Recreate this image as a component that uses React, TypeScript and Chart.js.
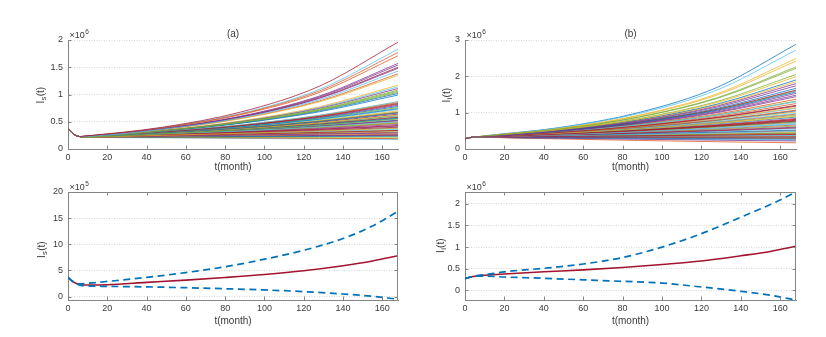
import React, { useEffect, useRef } from "react";
import { Chart, registerables } from "chart.js";

Chart.register(...registerables);

// ---------------- data ----------------
// months shown on the x axis
const monthTicks = [0, 20, 40, 60, 80, 100, 120, 140, 160];

// shared start of every simulated path (t = 0..6 months)
const headTimes = [0, 2, 4, 6];
const headIs = [0.375, 0.3, 0.25, 0.228]; // x10^6
const headIi = [0.285, 0.31, 0.325, 0.332]; // x10^6

// each path after that: values at these months
const pathTimes = [8, 48, 88, 128, 168];

// (a) I_s(t) paths, x10^6, grouped by line colour order
const isBlue = [
  [0.221, 0.285, 0.367, 0.473, 0.61], [0.225, 0.328, 0.479, 0.699, 1.02], [0.219, 0.252, 0.29, 0.334, 0.385],
  [0.223, 0.305, 0.417, 0.57, 0.78], [0.22, 0.274, 0.341, 0.425, 0.53], [0.217, 0.221, 0.226, 0.23, 0.235],
  [0.222, 0.3, 0.405, 0.548, 0.74], [0.225, 0.326, 0.472, 0.683, 0.99], [0.221, 0.279, 0.352, 0.444, 0.56],
  [0.222, 0.291, 0.383, 0.503, 0.66],
];
const isOrange = [
  [0.22, 0.266, 0.322, 0.389, 0.47], [0.218, 0.23, 0.243, 0.256, 0.27], [0.232, 0.382, 0.63, 1.038, 1.71],
  [0.224, 0.313, 0.436, 0.609, 0.85], [0.217, 0.21, 0.203, 0.196, 0.19], [0.22, 0.272, 0.337, 0.416, 0.515],
  [0.229, 0.359, 0.562, 0.881, 1.38], [0.218, 0.238, 0.26, 0.284, 0.31], [0.222, 0.293, 0.386, 0.508, 0.67],
  [0.233, 0.387, 0.642, 1.066, 1.77],
];
const isYellow = [
  [0.218, 0.245, 0.274, 0.308, 0.345], [0.224, 0.314, 0.44, 0.617, 0.865], [0.217, 0.213, 0.208, 0.204, 0.2],
  [0.227, 0.342, 0.515, 0.776, 1.17], [0.22, 0.269, 0.328, 0.401, 0.49], [0.222, 0.296, 0.394, 0.525, 0.7],
  [0.218, 0.233, 0.249, 0.267, 0.285], [0.229, 0.357, 0.556, 0.866, 1.35], [0.221, 0.286, 0.37, 0.479, 0.62],
  [0.219, 0.251, 0.289, 0.331, 0.38],
];
const isPurple = [
  [0.223, 0.307, 0.422, 0.581, 0.8], [0.219, 0.258, 0.303, 0.357, 0.42], [0.23, 0.37, 0.595, 0.957, 1.54],
  [0.218, 0.228, 0.238, 0.249, 0.26], [0.226, 0.336, 0.501, 0.746, 1.11], [0.22, 0.273, 0.338, 0.419, 0.52],
  [0.231, 0.373, 0.602, 0.972, 1.57], [0.218, 0.235, 0.254, 0.274, 0.295], [0.22, 0.263, 0.315, 0.376, 0.45],
  [0.23, 0.366, 0.583, 0.929, 1.48],
];
const isGreen = [
  [0.221, 0.283, 0.361, 0.462, 0.59], [0.225, 0.33, 0.484, 0.709, 1.04], [0.218, 0.242, 0.268, 0.298, 0.33],
  [0.223, 0.303, 0.412, 0.559, 0.76], [0.217, 0.218, 0.218, 0.219, 0.22], [0.226, 0.334, 0.494, 0.73, 1.08],
  [0.22, 0.267, 0.325, 0.395, 0.48], [0.222, 0.294, 0.389, 0.514, 0.68], [0.226, 0.333, 0.49, 0.72, 1.06],
  [0.221, 0.278, 0.349, 0.438, 0.55],
];
const isLightBlue = [
  [0.219, 0.248, 0.281, 0.318, 0.36], [0.226, 0.339, 0.508, 0.761, 1.14], [0.221, 0.28, 0.355, 0.45, 0.57],
  [0.217, 0.206, 0.195, 0.185, 0.175], [0.233, 0.39, 0.653, 1.093, 1.83], [0.222, 0.298, 0.401, 0.539, 0.725],
  [0.218, 0.236, 0.256, 0.277, 0.3], [0.224, 0.314, 0.441, 0.62, 0.87], [0.22, 0.27, 0.332, 0.407, 0.5],
  [0.229, 0.362, 0.572, 0.905, 1.43],
];
const isDarkRed = [
  [0.221, 0.288, 0.376, 0.491, 0.64], [0.218, 0.226, 0.234, 0.242, 0.25], [0.223, 0.31, 0.431, 0.6, 0.835],
  [0.23, 0.368, 0.587, 0.939, 1.5], [0.219, 0.255, 0.296, 0.344, 0.4], [0.221, 0.281, 0.358, 0.456, 0.58],
  [0.218, 0.244, 0.272, 0.304, 0.34], [0.223, 0.309, 0.428, 0.592, 0.82], [0.219, 0.259, 0.307, 0.363, 0.43],
  [0.235, 0.399, 0.679, 1.153, 1.96],
];

// (b) I_i(t) paths, x10^6
const iiBlue = [
  [0.331, 0.405, 0.495, 0.605, 0.74], [0.338, 0.504, 0.751, 1.12, 1.67], [0.328, 0.336, 0.344, 0.352, 0.36],
  [0.333, 0.444, 0.591, 0.788, 1.05], [0.348, 0.59, 1.001, 1.698, 2.88], [0.329, 0.369, 0.414, 0.464, 0.52],
  [0.34, 0.523, 0.804, 1.236, 1.9], [0.327, 0.312, 0.297, 0.283, 0.27], [0.332, 0.424, 0.541, 0.69, 0.88],
  [0.338, 0.496, 0.728, 1.069, 1.57],
];
const iiOrange = [
  [0.329, 0.365, 0.406, 0.45, 0.5], [0.335, 0.466, 0.647, 0.9, 1.25], [0.326, 0.277, 0.235, 0.2, 0.17],
  [0.332, 0.416, 0.522, 0.654, 0.82], [0.336, 0.477, 0.678, 0.964, 1.37], [0.327, 0.317, 0.308, 0.299, 0.29],
  [0.333, 0.434, 0.565, 0.737, 0.96], [0.328, 0.347, 0.367, 0.388, 0.41], [0.334, 0.447, 0.598, 0.8, 1.07],
  [0.33, 0.392, 0.467, 0.555, 0.66],
];
const iiYellow = [
  [0.333, 0.441, 0.583, 0.771, 1.02], [0.329, 0.358, 0.389, 0.423, 0.46], [0.344, 0.56, 0.912, 1.486, 2.42],
  [0.331, 0.402, 0.488, 0.593, 0.72], [0.34, 0.519, 0.793, 1.211, 1.85], [0.328, 0.333, 0.339, 0.344, 0.35],
  [0.334, 0.454, 0.617, 0.839, 1.14], [0.345, 0.565, 0.927, 1.52, 2.49], [0.332, 0.426, 0.547, 0.701, 0.9],
  [0.341, 0.53, 0.824, 1.28, 1.99],
];
const iiPurple = [
  [0.332, 0.419, 0.528, 0.666, 0.84], [0.337, 0.492, 0.718, 1.048, 1.53], [0.327, 0.32, 0.313, 0.307, 0.3],
  [0.339, 0.515, 0.781, 1.186, 1.8], [0.33, 0.383, 0.445, 0.517, 0.6], [0.337, 0.485, 0.697, 1.002, 1.44],
  [0.327, 0.296, 0.268, 0.243, 0.22], [0.339, 0.51, 0.768, 1.156, 1.74], [0.328, 0.328, 0.329, 0.329, 0.33],
  [0.337, 0.488, 0.706, 1.022, 1.48],
];
const iiGreen = [
  [0.33, 0.388, 0.456, 0.536, 0.63], [0.343, 0.547, 0.873, 1.392, 2.22], [0.332, 0.43, 0.556, 0.719, 0.93],
  [0.327, 0.323, 0.318, 0.314, 0.31], [0.338, 0.499, 0.735, 1.085, 1.6], [0.331, 0.407, 0.502, 0.617, 0.76],
  [0.341, 0.534, 0.836, 1.309, 2.05], [0.328, 0.351, 0.376, 0.402, 0.43], [0.336, 0.473, 0.666, 0.937, 1.32],
  [0.343, 0.55, 0.881, 1.411, 2.26],
];
const iiLightBlue = [
  [0.329, 0.376, 0.429, 0.49, 0.56], [0.334, 0.452, 0.612, 0.828, 1.12], [0.327, 0.303, 0.28, 0.259, 0.24],
  [0.331, 0.399, 0.481, 0.58, 0.7], [0.347, 0.581, 0.972, 1.626, 2.72], [0.328, 0.34, 0.353, 0.366, 0.38],
  [0.333, 0.436, 0.571, 0.748, 0.98], [0.329, 0.362, 0.397, 0.437, 0.48], [0.335, 0.47, 0.66, 0.926, 1.3],
  [0.33, 0.395, 0.474, 0.568, 0.68],
];
const iiDarkRed = [
  [0.329, 0.354, 0.38, 0.409, 0.44], [0.335, 0.461, 0.634, 0.872, 1.2], [0.331, 0.411, 0.511, 0.636, 0.79],
  [0.328, 0.331, 0.334, 0.337, 0.34], [0.338, 0.5, 0.74, 1.095, 1.62], [0.33, 0.38, 0.438, 0.504, 0.58],
  [0.331, 0.414, 0.518, 0.648, 0.81], [0.328, 0.345, 0.362, 0.381, 0.4], [0.334, 0.458, 0.628, 0.861, 1.18],
  [0.331, 0.409, 0.505, 0.624, 0.77],
];

// mean and bounds (bottom panels)
const statTimes = [0, 2, 4, 6, 10, 20, 40, 60, 80, 100, 120, 140, 155, 168];
const isMean = [3.7, 3.0, 2.55, 2.32, 2.22, 2.28, 2.72, 3.15, 3.65, 4.22, 4.94, 5.9, 6.8, 7.8]; // x10^5
const isUpper = [3.7, 3.0, 2.6, 2.45, 2.55, 2.9, 3.67, 4.6, 5.7, 7.15, 8.86, 11.1, 13.5, 16.3];
const isLower = [3.7, 3.0, 2.5, 2.2, 2.05, 1.96, 1.86, 1.7, 1.5, 1.27, 0.95, 0.5, 0.05, -0.5];
const iiMean = [0.27, 0.3, 0.32, 0.335, 0.35, 0.38, 0.43, 0.475, 0.53, 0.6, 0.68, 0.8, 0.9, 1.02]; // x10^6
const iiUpper = [0.27, 0.3, 0.32, 0.34, 0.36, 0.43, 0.51, 0.61, 0.76, 1.0, 1.31, 1.69, 1.98, 2.27];
const iiLower = [0.27, 0.3, 0.32, 0.33, 0.33, 0.31, 0.28, 0.245, 0.21, 0.17, 0.08, -0.02, -0.11, -0.22];

const yTicksIs = [0, 0.5, 1, 1.5, 2];
const yTicksIi = [0, 1, 2, 3];
const yTicksIsStat = [0, 5, 10, 15, 20];
const yTicksIiStat = [0, 0.5, 1, 1.5, 2];

// ---------------- styles ----------------
const LINE_COLORS = ["#0072BD", "#D95319", "#EDB120", "#7E2F8E", "#77AC30", "#4DBEEE", "#A2142F"];
const FONT = '"Liberation Sans", Arial, Helvetica, sans-serif';
const AXIS = "#858585";
const TEXT = "#3a3a3a";
const GRID = "#d6d6d6";

function ensemble(head: number[], groups: number[][][]) {
  const out: any[] = [];
  const n = Math.max(...groups.map((g) => g.length));
  for (let k = 0; k < n; k++) {
    groups.forEach((g, c) => {
      const row = g[k];
      if (!row) return;
      const data = headTimes
        .map((t, i) => ({ x: t, y: head[i] }))
        .concat(pathTimes.map((t, i) => ({ x: t, y: row[i] })));
      out.push({
        data,
        borderColor: LINE_COLORS[c],
        borderWidth: 0.75,
        pointRadius: 0,
        fill: false,
        cubicInterpolationMode: "monotone",
      });
    });
  }
  return out.reverse(); // first dataset is drawn on top in Chart.js
}

function stats(mean: number[], upper: number[], lower: number[]) {
  const pts = (arr: number[]) => statTimes.map((t, i) => ({ x: t, y: arr[i] }));
  const dashed = { borderColor: "#0072BD", borderWidth: 1.7, borderDash: [7, 4.5], pointRadius: 0, fill: false, cubicInterpolationMode: "monotone" };
  return [
    { ...dashed, data: pts(upper) },
    { ...dashed, data: pts(lower) },
    { data: pts(mean), borderColor: "#A2142F", borderWidth: 1.6, pointRadius: 0, fill: false, cubicInterpolationMode: "monotone" },
  ];
}

type Spec = {
  x: number; y: number; w: number; h: number;
  area: { left: number; right: number; top: number; bottom: number };
  yMin: number; yMax: number; yTicks: number[];
  box: boolean; title?: string; sub: string; exp: string;
  yTitleX: number; yTitleDy: number; xTitleDy: number;
  datasets: any[];
};

const specs: Spec[] = [
  {
    x: 0, y: 0, w: 413, h: 182, area: { left: 68, right: 398, top: 40, bottom: 149 },
    yMin: 0, yMax: 2, yTicks: yTicksIs, box: false, title: "(a)", sub: "s", exp: "6",
    yTitleX: 40, yTitleDy: 1, xTitleDy: 18,
    datasets: ensemble(headIs, [isBlue, isOrange, isYellow, isPurple, isGreen, isLightBlue, isDarkRed]),
  },
  {
    x: 413, y: 0, w: 413, h: 182, area: { left: 52, right: 383, top: 40, bottom: 149 },
    yMin: 0, yMax: 3, yTicks: yTicksIi, box: false, title: "(b)", sub: "i", exp: "6",
    yTitleX: 33, yTitleDy: 1, xTitleDy: 18,
    datasets: ensemble(headIi, [iiBlue, iiOrange, iiYellow, iiPurple, iiGreen, iiLightBlue, iiDarkRed]),
  },
  {
    x: 0, y: 170, w: 413, h: 167, area: { left: 68, right: 398, top: 22, bottom: 130 },
    yMin: -0.65, yMax: 20, yTicks: yTicksIsStat, box: true, sub: "s", exp: "5",
    yTitleX: 41, yTitleDy: 4, xTitleDy: 21,
    datasets: stats(isMean, isUpper, isLower),
  },
  {
    x: 413, y: 170, w: 413, h: 167, area: { left: 52, right: 383, top: 22, bottom: 130 },
    yMin: -0.22, yMax: 2.27, yTicks: yTicksIiStat, box: true, sub: "i", exp: "6",
    yTitleX: 27, yTitleDy: 0, xTitleDy: 21,
    datasets: stats(iiMean, iiUpper, iiLower),
  },
];

function decorPlugin(s: Spec) {
  return {
    id: "decor",
    afterDraw(chart: any) {
      const { ctx, chartArea: a, scales } = chart;
      ctx.save();
      // inner tick marks and box
      ctx.strokeStyle = AXIS;
      ctx.lineWidth = 1;
      ctx.setLineDash([]);
      ctx.beginPath();
      for (const v of monthTicks) {
        const px = Math.round(scales.x.getPixelForValue(v)) + 0.5;
        ctx.moveTo(px, a.bottom);
        ctx.lineTo(px, a.bottom - 3.5);
        if (s.box) {
          ctx.moveTo(px, a.top);
          ctx.lineTo(px, a.top + 3.5);
        }
      }
      for (const v of s.yTicks) {
        const py = Math.round(scales.y.getPixelForValue(v)) + 0.5;
        ctx.moveTo(a.left, py);
        ctx.lineTo(a.left + 3.5, py);
        if (s.box) {
          ctx.moveTo(a.right, py);
          ctx.lineTo(a.right - 3.5, py);
        }
      }
      if (s.box) {
        ctx.moveTo(a.left, a.top + 0.5);
        ctx.lineTo(a.right, a.top + 0.5);
        ctx.moveTo(a.right - 0.5, a.top);
        ctx.lineTo(a.right - 0.5, a.bottom);
      }
      ctx.stroke();

      ctx.fillStyle = TEXT;
      const midX = (a.left + a.right) / 2;
      // title
      if (s.title) {
        ctx.font = `10px ${FONT}`;
        ctx.textAlign = "center";
        ctx.textBaseline = "middle";
        ctx.fillText(s.title, midX, a.top - 6);
      }
      // x axis title
      ctx.font = `10px ${FONT}`;
      ctx.textAlign = "center";
      ctx.textBaseline = "middle";
      ctx.fillText("t(month)", midX, a.bottom + s.xTitleDy);
      // exponent
      ctx.textAlign = "left";
      ctx.textBaseline = "alphabetic";
      ctx.font = `9px ${FONT}`;
      const base = "\u00d710";
      ctx.fillText(base, a.left + 1.5, a.top - 2.5);
      const bw = ctx.measureText(base).width;
      ctx.font = `6.5px ${FONT}`;
      ctx.fillText(s.exp, a.left + 1.5 + bw + 0.5, a.top - 6.5);
      // y axis title with subscript
      ctx.save();
      ctx.translate(s.yTitleX, (a.top + a.bottom) / 2 + s.yTitleDy);
      ctx.rotate(-Math.PI / 2);
      const f1 = `10px ${FONT}`;
      const f2 = `7.5px ${FONT}`;
      ctx.font = f1;
      const wI = ctx.measureText("I").width;
      const wT = ctx.measureText("(t)").width;
      ctx.font = f2;
      const wS = ctx.measureText(s.sub).width;
      const x0 = -(wI + wS + wT) / 2;
      ctx.textAlign = "left";
      ctx.font = f1;
      ctx.fillText("I", x0, 3.6);
      ctx.font = f2;
      ctx.fillText(s.sub, x0 + wI + 0.3, 6.2);
      ctx.font = f1;
      ctx.fillText("(t)", x0 + wI + wS + 0.6, 3.6);
      ctx.restore();
      ctx.restore();
    },
  };
}

function buildConfig(s: Spec): any {
  const a = s.area;
  return {
    type: "line",
    data: { datasets: s.datasets },
    options: {
      responsive: false,
      animation: false,
      devicePixelRatio: 1,
      events: [],
      layout: { padding: { left: 0, top: a.top, right: s.w - a.right, bottom: 0 } },
      plugins: { legend: { display: false }, tooltip: { enabled: false }, title: { display: false } },
      scales: {
        x: {
          type: "linear",
          min: 0,
          max: 168,
          afterBuildTicks: (sc: any) => {
            sc.ticks = monthTicks.map((v) => ({ value: v }));
          },
          afterFit: (sc: any) => {
            sc.height = s.h - a.bottom;
          },
          grid: { display: false, drawTicks: false },
          border: { display: true, color: AXIS, width: 1 },
          ticks: {
            padding: 3,
            color: TEXT,
            font: { family: FONT, size: 9 },
            maxRotation: 0,
            autoSkip: false,
            callback: (v: number) => String(v),
          },
        },
        y: {
          type: "linear",
          min: s.yMin,
          max: s.yMax,
          afterBuildTicks: (sc: any) => {
            sc.ticks = s.yTicks.map((v) => ({ value: v }));
          },
          afterFit: (sc: any) => {
            sc.width = a.left;
          },
          grid: { display: true, color: GRID, lineWidth: 1, drawTicks: false },
          border: { display: true, color: AXIS, width: 1, dash: [1, 1.5] },
          ticks: {
            padding: 5,
            color: TEXT,
            font: { family: FONT, size: 9 },
            autoSkip: false,
            callback: (v: number) => String(v),
          },
        },
      },
    },
    plugins: [decorPlugin(s)],
  };
}

function Panel({ s }: { s: Spec }) {
  const ref = useRef<HTMLCanvasElement>(null);
  useEffect(() => {
    const chart = new Chart(ref.current as HTMLCanvasElement, buildConfig(s));
    return () => chart.destroy();
  }, []);
  return (
    <canvas
      ref={ref}
      width={s.w}
      height={s.h}
      style={{ position: "absolute", left: s.x, top: s.y, width: s.w, height: s.h, display: "block" }}
    />
  );
}

export default function App() {
  return (
    <div style={{ position: "absolute", left: 0, top: 0, width: 826, height: 337, background: "#ffffff", overflow: "hidden" }}>
      {specs.map((s, i) => (
        <Panel key={i} s={s} />
      ))}
    </div>
  );
}
